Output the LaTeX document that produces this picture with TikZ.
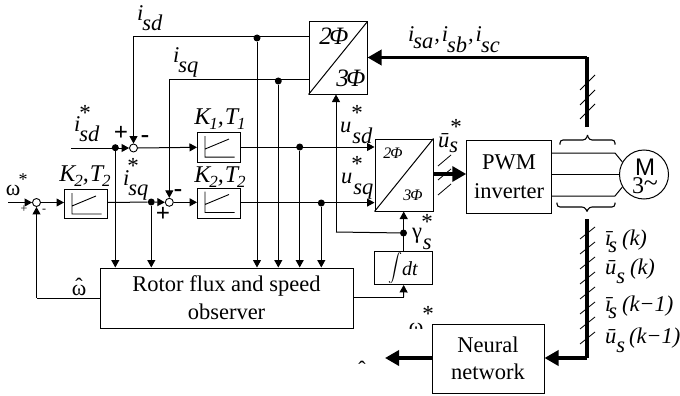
\documentclass[tikz,border=0pt]{standalone}
\usepackage{fontspec}
\setmainfont{Liberation Serif}
\newfontfamily\sansf{Liberation Sans}
\usetikzlibrary{arrows.meta,calc}
\newcount\labn
\newcommand\fsz[1]{\fontsize{#1}{#1}\selectfont}
\newcommand\lab[2]{\global\advance\labn by 1 \node[txt] (lab\the\labn) at (#1) {#2};}
\newcommand\bl[2]{\global\advance\labn by 1 \node[txt,anchor=base west] (lab\the\labn) at (#1) {\fsz{22.5}\itshape #2};}
\newcommand\drp[2]{\raisebox{-#1pt}{#2}}
\newcommand\st[1]{\lab{#1}{\fsz{23}*}}
\newcommand\KT[2]{\fsz{24}\itshape K\kern-1pt\raisebox{-5pt}{\fsz{17}#1},\kern1pt T\kern-1pt\raisebox{-5pt}{\fsz{17}#2}}
\newcommand\piicon[1]{\draw[line width=.9pt]
  ([shift={(8,4)}]#1.north west) -- ([shift={(8,25)}]#1.north west) -- ([shift={(37.5,25)}]#1.north west)
  ([shift={(8,17)}]#1.north west) -- ([shift={(32,7)}]#1.north west);}
\tikzset{
  txt/.style={inner sep=0pt,outer sep=0pt},
  blockbox/.style={draw,fill=white,line width=1pt,inner sep=0pt,align=center},
  wire/.style={line width=1pt},
  arr/.style={line width=1pt,-{Triangle[length=7.5pt,width=8pt]},shorten >=0pt},
  thick wire/.style={line width=3.4pt},
  thick arr/.style={line width=3.4pt,-{Triangle[length=14pt,width=15pt]}},
  junc/.style={circle,draw,fill=white,line width=.9pt,minimum size=8pt,inner sep=0pt},
  dotn/.style={circle,fill=black,minimum size=7pt,inner sep=0pt},
  tick/.style={line width=.8pt},
}
\begin{document}
\begin{tikzpicture}[x=1pt,y=-1pt]
\useasboundingbox (0,0) rectangle (680,396);
\fill[white] (0,0) rectangle (680,396);
% label of which only the top shows in the reference
\begin{scope}
\clip (400,315) rectangle (431,328);
\lab{416,328}{\fsz{22}ω}
\end{scope}
% blocks
\node[blockbox,minimum width=58pt,minimum height=72pt] (conv) at (338,58) {};
\node[blockbox,minimum width=58pt,minimum height=72pt] (convb) at (404,175) {};
\node[blockbox,minimum width=43pt,minimum height=29.5pt] (k1) at (219,147.3) {};
\node[blockbox,minimum width=43pt,minimum height=30pt] (k2r) at (219,203) {};
\node[blockbox,minimum width=43pt,minimum height=29pt] (k2l) at (86,204) {};
\node[blockbox,minimum width=253pt,minimum height=60pt,font=\fsz{22.5}] (obs) at (226.5,298) {Rotor flux and speed\\[5.5pt]observer};
\node[blockbox,minimum width=58pt,minimum height=32.5pt] (intg) at (403.7,268.2) {};
\node[blockbox,minimum width=84.5pt,minimum height=73pt,font=\fsz{22.5}] (pwm) at (509,176.5) {PWM\\[6pt]inverter};
\node[blockbox,minimum width=112pt,minimum height=69pt,font=\fsz{22.5}] (nn) at (488,358.5) {Neural\\[5pt]network};
\node[circle,draw,line width=1pt,minimum size=49pt,inner sep=0pt] (mot) at (644,174.5) {};
\piicon{k1}\piicon{k2r}\piicon{k2l}
\draw[line width=1pt] (conv.south west) -- (conv.north east);
\draw[line width=1pt] (convb.south west) -- (convb.north east);
% junctions and dots
\node[junc] (j1) at (133.5,148) {};
\node[junc] (j2) at (169.3,202.3) {};
\node[junc] (j0) at (36.5,202.5) {};
\node[dotn] (d1) at (257,38) {};
\node[dotn] (d2) at (278.3,81) {};
\node[dotn] (d3) at (115.3,147.7) {};
\node[dotn] (d4) at (151.3,202) {};
\node[dotn] (d5) at (299.7,147) {};
\node[dotn] (d6) at (321.3,203) {};
\node[dotn] (d7) at (403.5,233) {};
\coordinate (c1) at (133.5,36.5);
\coordinate (c2) at (169.3,79.7);
\coordinate (c3) at (336,232);
\coordinate (c4) at (36.5,298);
\coordinate (c5) at (403.5,297);
\coordinate (in1) at (71,148);
\coordinate (in0) at (8,202.5);
% wires
\draw[wire] (conv.west |- c1) -- (c1);
\draw[arr] (c1) -- (j1.north);
\draw[wire] (conv.west |- c2) -- (c2);
\draw[arr] (c2) -- (j2.north);
\draw[arr] (in1) -- (j1.west);
\draw[arr] (j1.east) -- (k1.west);
\draw[arr] (in0) -- (j0.west);
\draw[arr] (j0.east) -- (k2l.west |- j0);
\draw[wire] (k2l.east |- j0) -- (d4);
\draw[arr] (d4) -- (j2.west);
\draw[arr] (j2.east) -- (k2r.west |- j2);
\draw[arr] (k1.east |- 0,147) -- (convb.west |- 0,147);
\draw[arr] (k2r.east |- 0,202.6) -- (convb.west |- 0,202.6);
\foreach \d in {d1,d2,d3,d4,d5,d6} \draw[arr] (\d) -- (\d |- obs.north);
\draw[arr] (c4) -- (j0.south);
\draw[wire] (obs.west |- c4) -- (c4);
\draw[wire] (d7) -- (c3);
\draw[arr] (c3) -- (conv.south -| c3);
\draw[arr] (intg.north) -- (convb.south -| intg);
\draw[wire] (obs.east |- c5) -- (c5);
\draw[arr] (c5) -- (intg.south);
% thick connections
\coordinate (t1) at (587,57.5);
\coordinate (t2) at (587,127);
\coordinate (t3) at (587,219);
\coordinate (t4) at (587,358);
\coordinate (t5) at (385,358);
\draw[thick wire] (t2) -- (t1);
\draw[thick arr] (t1) -- (conv.east |- t1);
\draw[thick wire] (t3) -- (t4);
\draw[thick arr] (t4) -- (nn.east |- t4);
\draw[thick arr] (nn.west |- t4) -- (t5);
\draw[thick arr] (convb.east |- 0,174) -- (pwm.west |- 0,174);
\foreach \y in {90,105,119} \draw[tick] (580,\y) -- (595,\y-15);
\foreach \y in {239,254,...,344} \draw[tick] (580,\y) -- (595,\y-12);
\foreach \y in {166,180,195} \draw[tick] (438,\y) -- (451,\y-11);
% motor leads
\coordinate (l1) at (615,153);
\coordinate (l2) at (615,196);
\draw[wire] (pwm.east |- l1) -- (l1) -- (mot.150);
\draw[wire] (pwm.east |- 0,174.5) -- (mot.west);
\draw[wire] (pwm.east |- l2) -- (l2) -- (mot.210);
% braces
\draw[line width=1.1pt,rounded corners=3pt] (560,144.5) -- (560,140) -- (586,140) -- (587.5,135);
\draw[line width=1.1pt,rounded corners=3pt] (615,144.5) -- (615,140) -- (589,140) -- (587.5,135);
\draw[line width=1.1pt,rounded corners=3pt] (557,202.5) -- (557,207) -- (585,207) -- (587,211.5);
\draw[line width=1.1pt,rounded corners=3pt] (615,202.5) -- (615,207) -- (589,207) -- (587,211.5);
% labels
\bl{137,21}{i\kern-1pt\drp{10}{sd}}
\bl{173,63}{i\kern-1pt\drp{10}{sq}}
\bl{74,131}{i\kern-1pt\drp{10}{sd}}\st{85,113}
\bl{123,185}{i\kern-1pt\drp{10}{sq}}\st{133,166}
\lab{13,190}{\fsz{22}ω}\lab{23,180}{\fsz{18}*}
\lab{220,119}{\KT{1}{1}}
\lab{85,176}{\KT{2}{2}}
\lab{220,177}{\KT{2}{2}}
\lab{121,133}{\fsz{25}\bfseries +}\lab{145,139}{\fsz{25}\bfseries -}
\lab{178,193}{\fsz{25}\bfseries -}\lab{163,214}{\fsz{25}\bfseries +}
\lab{24,209}{\fsz{12}+}\lab{44,211}{\fsz{12}-}
\lab{79,287}{\fsz{22}\rlap{\hspace{3.7pt}\raisebox{2pt}{ˆ}}ω}
\lab{334,36}{\fsz{25}\itshape 2\kern-2.5ptΦ}
\lab{351,78}{\fsz{25}\itshape 3\kern-2.5ptΦ}
\lab{393,153}{\fsz{16}\itshape 2\kern-1ptΦ}
\lab{413,195}{\fsz{16}\itshape 3\kern-1ptΦ}
\bl{340,132}{u\kern1pt\drp{11}{sd}}\st{357,113}
\bl{341,183}{u\kern1pt\drp{11}{sq}}\st{357,164}
\bl{438,147}{ū\drp{5}{s}}\st{456,127}
\global\advance\labn by 1 \node[txt,anchor=base west] (lab\the\labn) at (412,238) {\fsz{22.5}γ\itshape\kern1pt\drp{11}{s}};
\st{427,222}
\bl{408,42}{i\kern-1pt\drp{6}{sa}\kern1pt,\kern2pt i\kern-1pt\drp{11}{sb}\kern1pt,\kern2pt i\kern-1pt\drp{11}{sc}}
\bl{605,245}{ī\kern-3pt\drp{7}{s}\kern5pt(k)}
\bl{605,274}{ū\drp{9}{s}\kern5pt(k)}
\bl{605,311}{ī\kern-3pt\drp{7}{s}\kern5pt(k−1)}
\bl{605,343}{ū\drp{9}{s}\kern4pt(k−1)}
\lab{395,268}{\scalebox{1.4}{$\displaystyle\int$}}
\lab{410,269}{\fsz{20}\itshape dt}
\lab{645,167}{\fsz{24}\sansf M}
\lab{638,186}{\fsz{24}3}
\lab{651,186}{\fsz{26}\textasciitilde}
\st{428,314}
\lab{362,369}{\fsz{22}ˆ}
\end{tikzpicture}
\end{document}
